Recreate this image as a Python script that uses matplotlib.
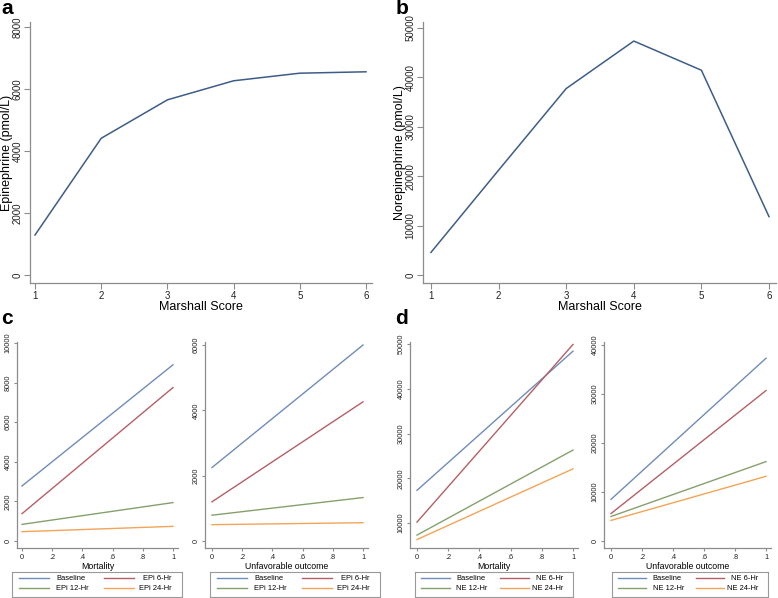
import matplotlib
matplotlib.use("Agg")
import matplotlib.pyplot as plt

plt.rcParams["font.family"] = ["Liberation Sans", "DejaVu Sans"]

W, H = 778, 598

# top panels: Marshall score profile
marshall = [1, 2, 3, 4, 5, 6]
epi = [1290, 4410, 5650, 6265, 6510, 6555]
norepi = [4580, 21200, 37700, 47300, 41400, 11800]

# bottom panels: predicted values at outcome 0 and 1
outcome_x = [0, 1]
series_names_epi = ["Baseline", "EPi 6-Hr", "EPi 12-Hr", "EPi 24-Hr"]
series_names_ne = ["Baseline", "NE 6-Hr", "NE 12-Hr", "NE 24-Hr"]
epi_mort = [[2780, 8900], [1380, 7750], [840, 1940], [470, 740]]
epi_unfav = [[2250, 6000], [1200, 4260], [790, 1330], [500, 560]]
ne_mort = [[17300, 48400], [10200, 49900], [7300, 26300], [6300, 22100]]
ne_unfav = [[8500, 37300], [5600, 30700], [5000, 16200], [4200, 13200]]

top_col = "#3d5d88"
colors = ["#6f8db8", "#b45f66", "#86a06c", "#f2a457"]
axis_gray = "#8c8c8c"


def rect(l, t, r, b):
    return [l / W, 1 - b / H, (r - l) / W, (b - t) / H]


def lims(p_lo, p_hi, v_lo, v_hi, a_lo, a_hi):
    """map pixel edges a_lo/a_hi to data given two reference ticks"""
    k = (v_hi - v_lo) / (p_hi - p_lo)
    return v_lo + (a_lo - p_lo) * k, v_lo + (a_hi - p_lo) * k


def style(ax, tsize, tlen):
    for s in ["top", "right"]:
        ax.spines[s].set_visible(False)
    for s in ["left", "bottom"]:
        ax.spines[s].set_color(axis_gray)
        ax.spines[s].set_linewidth(0.9)
    ax.tick_params(axis="both", colors=axis_gray, labelcolor="#222222",
                   labelsize=tsize, length=tlen, width=0.8, pad=1.5)
    for lab in ax.get_yticklabels():
        lab.set_rotation(90)
        lab.set_va("center")


fig = plt.figure(figsize=(W / 100, H / 100), dpi=100)

# ---- panel a ----
ax = fig.add_axes(rect(30, 22, 372, 283))
ax.plot(marshall, epi, color=top_col, lw=1.1)
ax.set_xlim(*lims(35, 366, 1, 6, 30, 372))
ax.set_ylim(*lims(275, 27, 0, 8000, 283, 22))
ax.set_xticks(marshall)
ax.set_yticks([0, 2000, 4000, 6000, 8000])
style(ax, 7, 4)
ax.set_xlabel("Marshall Score", fontsize=9)
ax.xaxis.set_label_coords(0.5, -0.07)
ax.set_ylabel("Epinephrine (pmol/L)", fontsize=9)
ax.yaxis.set_label_coords(-0.05, 0.5)

# ---- panel b ----
ax = fig.add_axes(rect(423, 22, 776, 283))
ax.plot(marshall, norepi, color=top_col, lw=1.1)
ax.set_xlim(*lims(431, 769, 1, 6, 423, 776))
ax.set_ylim(*lims(275, 27.7, 0, 50000, 283, 22))
ax.set_xticks(marshall)
ax.set_yticks([0, 10000, 20000, 30000, 40000, 50000])
style(ax, 7, 4)
ax.set_xlabel("Marshall Score", fontsize=9)
ax.xaxis.set_label_coords(0.5, -0.07)
ax.set_ylabel("Norepinephrine (pmol/L)", fontsize=9)
ax.yaxis.set_label_coords(-0.047, 0.5)

fig.text(1 / W, 1 - 9 / H, "a", fontsize=15, fontweight="bold", va="center")
fig.text(396 / W, 1 - 9 / H, "b", fontsize=15, fontweight="bold", va="center")
fig.text(1 / W, 1 - 319 / H, "c", fontsize=15, fontweight="bold", va="center")
fig.text(395 / W, 1 - 319 / H, "d", fontsize=15, fontweight="bold", va="center")

# ---- bottom panels ----
bottom = [
    # data, names, xlabel, (l, t0, t1, r), (ytick px lo, hi, val lo, hi), yticks, legend box
    (epi_mort, series_names_epi, "Mortality", (17, 22, 173, 178),
     (541, 343, 0, 10000), [0, 2000, 4000, 6000, 8000, 10000], (12, 182)),
    (epi_unfav, series_names_epi, "Unfavorable outcome", (205, 212, 363, 368),
     (541, 345, 0, 6000), [0, 2000, 4000, 6000], (210, 380)),
    (ne_mort, series_names_ne, "Mortality", (410, 417, 573, 578),
     (523, 344, 10000, 50000), [10000, 20000, 30000, 40000, 50000], (415, 573)),
    (ne_unfav, series_names_ne, "Unfavorable outcome", (604, 611, 766, 771),
     (541, 345, 0, 40000), [0, 10000, 20000, 30000, 40000], (612, 768)),
]
top_px, bot_px = 342, 548
xt = [0, 0.2, 0.4, 0.6, 0.8, 1]
xtl = ["0", ".2", ".4", ".6", ".8", "1"]

for data, names, xlab, (l, t0, t1, r), (pl, ph, vl, vh), yt, (bl, br) in bottom:
    ax = fig.add_axes(rect(l, top_px, r, bot_px))
    for vals, c, n in zip(data, colors, names):
        ax.plot(outcome_x, vals, color=c, lw=1.0, label=n)
    ax.set_xlim(*lims(t0, t1, 0, 1, l, r))
    ax.set_ylim(*lims(pl, ph, vl, vh, bot_px, top_px))
    ax.set_xticks(xt)
    ax.set_xticklabels(xtl)
    ax.set_yticks(yt)
    style(ax, 5.3, 2.5)
    ax.set_xlabel(xlab, fontsize=6.3, labelpad=1)

    # legend box drawn as its own small axes
    lg = fig.add_axes(rect(bl, 572, br, 597))
    lg.set_xlim(0, 1)
    lg.set_ylim(0, 1)
    lg.set_xticks([])
    lg.set_yticks([])
    for s in lg.spines.values():
        s.set_color("#9a9a9a")
        s.set_linewidth(0.8)
    rows = [0.76, 0.36]
    for i, (c, n) in enumerate(zip(colors, names)):
        col, row = i % 2, i // 2
        y = rows[row]
        if col == 0:
            lg.plot([0.04, 0.22], [y, y], color=c, lw=1.0)
            lg.text(0.26, y, n, fontsize=5.4, va="center", ha="left")
        else:
            lg.plot([0.54, 0.72], [y, y], color=c, lw=1.0)
            lg.text(0.94, y, n, fontsize=5.4, va="center", ha="right")

fig.savefig("out.png", dpi=100)
